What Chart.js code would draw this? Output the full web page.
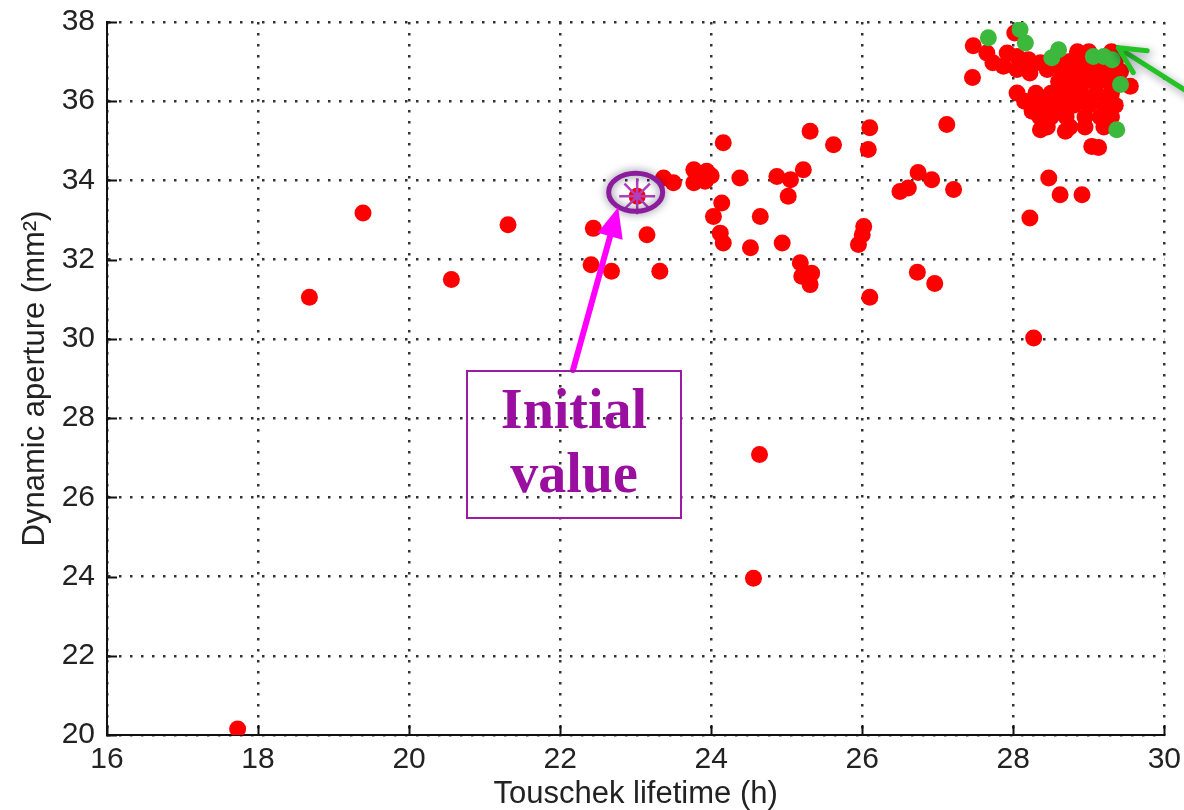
<!DOCTYPE html>
<html><head><meta charset="utf-8">
<script src="https://cdn.jsdelivr.net/npm/chart.js@4/dist/chart.umd.min.js"></script>
<style>
body{margin:0;background:#fff;}
#wrap{position:relative;width:1184px;height:810px;overflow:hidden;}
#c{position:absolute;left:0;top:0;}
#box{position:absolute;left:466px;top:370px;width:216px;height:149px;box-sizing:border-box;border:2px solid #9b1ba5;color:#9a0fa0;font:bold 56px "Liberation Serif",serif;text-align:center;line-height:64px;padding-top:5px;}
</style></head><body>
<div id="wrap"><canvas id="c" width="1188" height="810"></canvas><div id="box">Initial<br>value</div></div>
<script>
// ---- data ----
const xTitle = 'Touschek lifetime (h)';
const yTitle = 'Dynamic aperture (mm\u00B2)';
const xRange = [16, 30];
const yRange = [20, 38];
const tickStep = 2;

const redX = [17.73,18.68,19.39,20.56,21.31,22.44,22.41,22.68,23.15,23.32,23.02,23.37,23.5,23.77,23.94,23.77,23.92,24.0,24.38,24.16,
  24.87,25.05,25.22,25.02,25.31,25.62,24.14,24.03,24.65,24.12,24.16,24.52,24.94,25.18,25.2,25.33,25.31,24.64,24.56,26.1,
  26.08,27.12,26.74,26.92,26.61,26.5,27.21,26.02,26.0,25.95,26.1,26.73,26.96,28.47,28.62,28.91,28.22,28.27,27.46,27.47,
  27.65,27.73,27.87,27.92,28.02,28.05,28.05,28.22,28.36,28.45,28.2,28.05,28.15,28.25,
  28.85,29.0,29.3,
  28.6,28.75,28.9,29.05,29.2,29.35,
  28.65,28.85,29.0,29.15,29.3,29.42,
  28.6,28.8,28.95,29.1,29.25,29.4,
  28.3,28.5,28.7,28.9,29.1,29.3,
  28.25,28.4,28.6,28.8,29.0,29.2,29.35,
  28.35,28.5,28.7,28.95,29.15,29.3,
  28.45,28.75,28.95,29.2,
  28.36,28.69,29.04,29.13,29.55];
const redY = [20.15,31.05,33.18,31.5,32.88,32.79,31.87,31.71,32.63,31.71,33.6,34.06,33.94,34.27,34.23,33.94,33.98,34.12,34.06,34.95,
  34.1,34.02,34.27,33.6,35.24,34.9,33.43,33.09,33.09,32.67,32.42,32.3,32.42,31.92,31.58,31.66,31.37,27.08,23.96,35.33,
  34.78,35.41,34.2,34.02,33.81,33.72,33.77,32.84,32.63,32.38,31.05,31.68,31.4,34.06,33.64,33.64,33.05,30.02,36.6,37.4,
  37.22,36.97,36.88,37.22,37.72,37.13,36.8,36.71,36.97,36.8,37.05,36.21,36.0,35.75,
  37.25,37.25,37.25,
  37.0,37.0,37.0,37.0,37.0,37.0,
  36.75,36.75,36.75,36.75,36.75,36.75,
  36.5,36.5,36.5,36.5,36.5,36.5,
  36.2,36.2,36.2,36.2,36.2,36.2,
  35.9,35.9,35.9,35.9,35.9,35.9,35.9,
  35.6,35.6,35.6,35.6,35.6,35.6,
  35.35,35.35,35.35,35.35,
  35.28,35.24,34.86,34.83,36.38];

const greenX = [27.67,28.09,28.16,28.51,28.6,29.06,29.2,29.31,29.42,29.37];
const greenY = [37.6,37.81,37.47,37.1,37.3,37.13,37.13,37.05,36.42,35.28];

const initialX = [23.02];
const initialY = [33.6];
const greenArrowTarget = [29.39, 37.35];

const toPts = (xs, ys) => xs.map((x, i) => ({x, y: ys[i]}));

const xTickFont = {family: '"Liberation Sans", Arial, sans-serif', size: 30};
const yTickFont = {family: '"Liberation Sans", Arial, sans-serif', size: 30, lineHeight: 0.6};
const titleFont = {family: '"Liberation Sans", Arial, sans-serif', size: 31, lineHeight: 1};

const annotate = {
  id: 'annotate',
  afterDraw(chart) {
    const {ctx} = chart;
    const xs = chart.scales.x, ys = chart.scales.y;
    ctx.save();
    ctx.strokeStyle = '#111'; ctx.lineWidth = 2;
    ys.ticks.forEach(t => { const py = Math.round(ys.getPixelForValue(t.value)) + 0.5;
      ctx.beginPath(); ctx.moveTo(xs.left, py); ctx.lineTo(xs.left + 10, py); ctx.stroke(); });
    xs.ticks.forEach(t => { const px = Math.round(xs.getPixelForValue(t.value)) + 0.5;
      ctx.beginPath(); ctx.moveTo(px, ys.bottom); ctx.lineTo(px, ys.bottom - 10); ctx.stroke(); });
    ctx.restore();

    const sx = xs.getPixelForValue(initialX[0]), sy = ys.getPixelForValue(initialY[0]);
    ctx.save();
    ctx.shadowColor = 'rgba(20,20,60,0.55)'; ctx.shadowBlur = 8;
    ctx.strokeStyle = '#8c1c9c'; ctx.lineWidth = 5;
    ctx.beginPath(); ctx.ellipse(sx - 1.5, sy - 4, 27, 19, 0, 0, Math.PI * 2); ctx.stroke();
    ctx.restore();

    const box = document.getElementById('box');
    const tail = {x: box.offsetLeft + 107, y: box.offsetTop};
    const tip = {x: sx - 19, y: sy + 11};
    drawArrow(ctx, tail, tip, '#ff00ff', 6, 30, 13, false);

    const gt = {x: xs.getPixelForValue(greenArrowTarget[0]), y: ys.getPixelForValue(greenArrowTarget[1])};
    const gtail = {x: gt.x + 90, y: gt.y + 57};
    ctx.save();
    ctx.shadowColor = 'rgba(20,20,60,0.45)'; ctx.shadowBlur = 8; ctx.shadowOffsetX = 2; ctx.shadowOffsetY = 3;
    drawArrow(ctx, gtail, gt, '#22c322', 5, 26, 13, true);
    ctx.restore();
  }
};

function drawArrow(ctx, from, to, color, width, headLen, headHalf, open) {
  const dx = to.x - from.x, dy = to.y - from.y, len = Math.hypot(dx, dy);
  const ux = dx / len, uy = dy / len, nx = -uy, ny = ux;
  const bx = to.x - ux * headLen, by = to.y - uy * headLen;
  ctx.save();
  ctx.strokeStyle = color; ctx.fillStyle = color; ctx.lineWidth = width; ctx.lineCap = 'round'; ctx.lineJoin = 'round';
  ctx.beginPath(); ctx.moveTo(from.x, from.y);
  if (open) ctx.lineTo(to.x, to.y); else ctx.lineTo(bx + ux * 2, by + uy * 2);
  ctx.stroke();
  ctx.beginPath();
  ctx.moveTo(bx + nx * headHalf, by + ny * headHalf);
  ctx.lineTo(to.x, to.y);
  ctx.lineTo(bx - nx * headHalf, by - ny * headHalf);
  if (open) ctx.stroke(); else { ctx.closePath(); ctx.fill(); }
  ctx.restore();
}

new Chart(document.getElementById('c'), {
  type: 'scatter',
  data: {
    datasets: [
      {label: 'initial', data: toPts(initialX, initialY), pointStyle: 'star', pointRadius: 18,
       borderColor: '#b040c0', backgroundColor: '#b040c0', borderWidth: 2.5, order: 0},
      {label: 'selected', data: toPts(greenX, greenY), pointRadius: 8.5, backgroundColor: '#3cb83c', borderWidth: 0, order: 1},
      {label: 'solutions', data: toPts(redX, redY), pointRadius: 8.5, backgroundColor: '#ff0000', borderWidth: 0, order: 2}
    ]
  },
  options: {
    responsive: false, animation: false, devicePixelRatio: 1,
    layout: {padding: {top: 22, right: 20, left: 0, bottom: 0}},
    plugins: {legend: {display: false}, tooltip: {enabled: false}},
    scales: {
      x: {
        type: 'linear', min: xRange[0], max: xRange[1],
        ticks: {stepSize: tickStep, padding: 7, color: '#222', font: xTickFont, maxRotation: 0},
        grid: {color: '#333', lineWidth: 2.5, drawTicks: false},
        border: {display: true, color: '#111', width: 2, dash: [2.5, 8.5]},
        title: {display: true, text: xTitle, color: '#222', font: titleFont, padding: {top: 0, bottom: 0}},
        afterFit(s) { s.height = 75; }
      },
      y: {
        type: 'linear', min: yRange[0], max: yRange[1],
        ticks: {stepSize: tickStep, padding: 12, color: '#222', font: yTickFont},
        grid: {color: '#333', lineWidth: 2.5, drawTicks: false},
        border: {display: true, color: '#111', width: 2, dash: [2.5, 8.5]},
        title: {display: true, text: yTitle, color: '#222', font: titleFont, padding: {top: 20, bottom: 0}},
        afterFit(s) { s.width = 107; }
      }
    }
  },
  plugins: [annotate]
});
</script>
</body></html>
